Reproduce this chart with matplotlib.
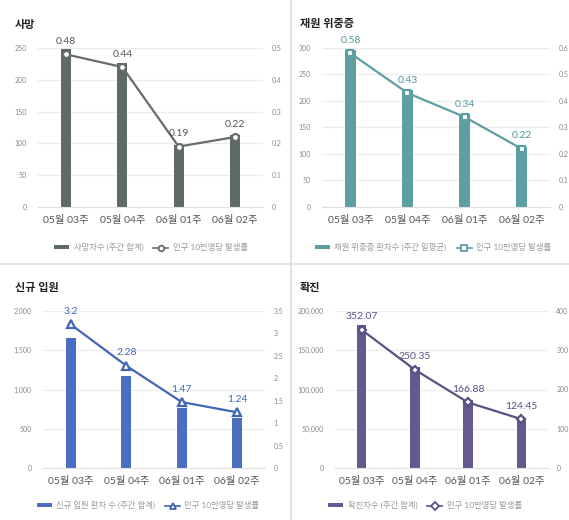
import matplotlib
matplotlib.use("Agg")
import matplotlib.pyplot as plt
from matplotlib.lines import Line2D
from matplotlib.patches import Patch
from matplotlib.ticker import FuncFormatter

plt.rcParams['font.family'] = ['Lato', 'Noto Sans CJK KR', 'DejaVu Sans']

# DATA
weeks = ["05월 03주", "05월 04주", "06월 01주", "06월 02주"]

death_counts = [248, 227, 98, 113]
death_rates = [0.48, 0.44, 0.19, 0.22]

severe_counts = [297, 221, 175, 114]
severe_rates = [0.58, 0.43, 0.34, 0.22]

hosp_counts = [1655, 1176, 760, 642]
hosp_rates = [3.2, 2.28, 1.47, 1.24]

conf_counts = [181700, 129200, 86100, 64200]
conf_rates = [352.07, 250.35, 166.88, 124.45]

W, H = 569, 520
fig = plt.figure(figsize=(W / 100, H / 100), dpi=100)


def px_axes(l, t, r, b):
    return fig.add_axes([l / W, 1 - b / H, (r - l) / W, (b - t) / H])


def comma(v, pos):
    return f"{int(v):,}"


def plain(v, pos):
    return f"{v:g}"


# ==================================================
# panel helper
# ==================================================
def panel(box, title, title_xy, counts, rates, left_max, left_step, right_max, right_step,
          bar_color, line_color, label_color, marker, msize, bar_label, legend_xy):
    ax = px_axes(*box)
    x = range(len(weeks))
    ax.bar(x, counts, width=0.18, color=bar_color, zorder=2)
    ax.set_xlim(-0.5, len(weeks) - 0.5)
    ax.set_ylim(0, left_max)
    ax.set_yticks([i * left_step for i in range(int(left_max / left_step) + 1)])
    ax.yaxis.set_major_formatter(FuncFormatter(comma))
    ax.grid(axis="y", color="#ececec", linewidth=0.8, zorder=0)
    ax.set_xticks(list(x))
    ax.set_xticklabels(weeks)
    ax.tick_params(axis="x", length=0, labelsize=7.5, labelcolor="#555555", pad=6)
    ax.tick_params(axis="y", length=0, labelsize=5, labelcolor="#888888", pad=8)
    for s in ["top", "right", "left"]:
        ax.spines[s].set_visible(False)
    ax.spines["bottom"].set_color("#e0e0e0")

    ax2 = ax.twinx()
    ax2.plot(x, rates, color=line_color, linewidth=1.6, marker=marker, markersize=msize,
             markerfacecolor="white", markeredgecolor=line_color, markeredgewidth=1.6, zorder=3)
    ax2.set_ylim(0, right_max)
    ax2.set_yticks([i * right_step for i in range(int(round(right_max / right_step)) + 1)])
    ax2.yaxis.set_major_formatter(FuncFormatter(plain))
    ax2.tick_params(axis="y", length=0, labelsize=5, labelcolor="#888888", pad=6)
    for s in ["top", "right", "left", "bottom"]:
        ax2.spines[s].set_visible(False)
    for xi, r in zip(x, rates):
        ax2.annotate(f"{r:g}", (xi, r), xytext=(0, 6), textcoords="offset points",
                     ha="center", va="bottom", fontsize=7.5, color=label_color)

    fig.text(title_xy[0] / W, 1 - title_xy[1] / H, title, fontsize=8, fontweight="bold",
             color="#222222", ha="left", va="center")

    handles = [Patch(facecolor=bar_color, edgecolor="none"),
               Line2D([], [], color=line_color, linewidth=1.2, marker=marker, markersize=4,
                      markerfacecolor="white", markeredgecolor=line_color, markeredgewidth=1.3)]
    fig.legend(handles, [bar_label, "인구 10만명당 발생률"], loc="center",
               bbox_to_anchor=(legend_xy[0] / W, 1 - legend_xy[1] / H), ncol=2,
               frameon=False, fontsize=6, labelcolor="#999999", handlelength=1.8,
               handleheight=0.3, columnspacing=1.2, handletextpad=0.5)


panel((38, 48, 263, 207), "사망", (15, 24), death_counts, death_rates, 250, 50, 0.5, 0.1,
      "#5e6a67", "#666d6b", "#555555", "o", 5, "사망자수 (주간 합계)", (151, 247))

panel((322, 48, 550, 207), "재원 위중증", (300, 23), severe_counts, severe_rates, 300, 50, 0.6, 0.1,
      "#5d9fa1", "#5d9fa1", "#4f9a9c", "s", 4.5, "재원 위중증 환자수 (주간 일평균)", (433, 247))

panel((43, 311, 265, 468), "신규 입원", (15, 287), hosp_counts, hosp_rates, 2000, 500, 3.5, 0.5,
      "#4a6fc0", "#4266b8", "#4266b8", "^", 5.5, "신규 입원 환자 수 (주간 합계)", (148, 505))

panel((335, 311, 548, 468), "확진", (300, 287), conf_counts, conf_rates, 200000, 50000, 400, 100,
      "#65598f", "#5b5085", "#5b5085", "D", 4.5, "확진자수 (주간 합계)", (425, 505))

# separators
fig.add_artist(Line2D([291 / W, 291 / W], [0, 1], color="#e3e3e3", linewidth=1.5))
fig.add_artist(Line2D([0, 1], [1 - 264 / H, 1 - 264 / H], color="#e3e3e3", linewidth=1.5))

fig.savefig("out.png", dpi=100)
